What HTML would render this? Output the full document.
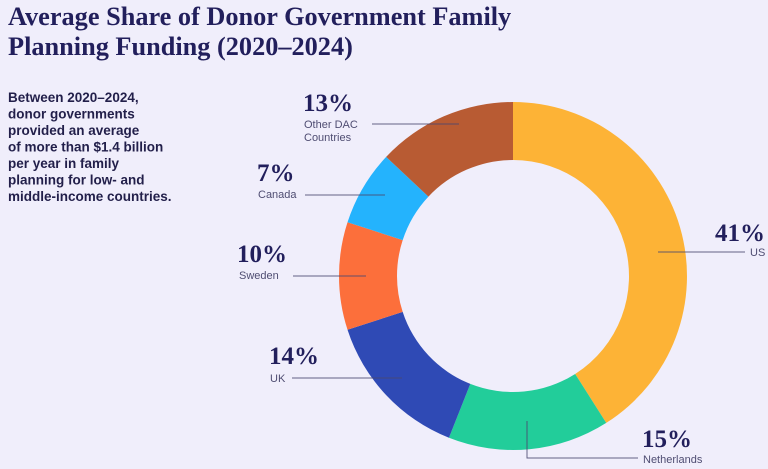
<!DOCTYPE html>
<html><head><meta charset="utf-8"><style>
html,body{margin:0;padding:0;background:#f0eefb;}
body{width:768px;height:464px;position:relative;overflow:hidden;}
</style></head><body>
<svg width="768" height="464" viewBox="0 0 768 464" xmlns="http://www.w3.org/2000/svg">
<rect width="768" height="464" fill="#f0eefb"/>
<g font-family="Liberation Serif, serif" font-weight="bold" fill="#221f5c">
<text x="8" y="25" font-size="26.3">Average Share of Donor Government Family</text>
<text x="8" y="55" font-size="26.3">Planning Funding (2020–2024)</text>
</g>
<g font-family="Liberation Sans, sans-serif" font-weight="bold" fill="#221f4a" font-size="13.5">
<text x="8" y="102">Between 2020–2024,</text>
<text x="8" y="118.5">donor governments</text>
<text x="8" y="135">provided an average</text>
<text x="8" y="151.5">of more than $1.4 billion</text>
<text x="8" y="168">per year in family</text>
<text x="8" y="184.5">planning for low- and</text>
<text x="8" y="201">middle-income countries.</text>
</g>
<g id="donut"></g>
<g stroke="#4a4870" stroke-width="1" fill="none" opacity="0.85">
<line x1="372" y1="124" x2="459" y2="124"/>
<line x1="305" y1="195" x2="385" y2="195"/>
<line x1="293" y1="276" x2="366" y2="276"/>
<line x1="292" y1="378" x2="402" y2="378"/>
<line x1="658" y1="252" x2="745" y2="252"/>
<polyline points="527,421 527,458 638,458"/>
</g>
<g font-family="Liberation Serif, serif" font-weight="bold" fill="#221f5c" font-size="25">
<text x="303" y="111">13%</text>
<text x="257" y="181">7%</text>
<text x="237" y="262">10%</text>
<text x="269" y="364">14%</text>
<text x="715" y="241">41%</text>
<text x="642" y="447">15%</text>
</g>
<g font-family="Liberation Sans, sans-serif" fill="#4f4d72" font-size="11">
<text x="304" y="128">Other DAC</text>
<text x="304" y="141">Countries</text>
<text x="258" y="198">Canada</text>
<text x="239" y="279">Sweden</text>
<text x="270" y="382">UK</text>
<text x="750" y="256">US</text>
<text x="643" y="463">Netherlands</text>
</g>
</svg>
<script>
(function(){
var cx=513,cy=276,R=174,r=116;
var segs=[[41,"#fdb336"],[15,"#22cd9a"],[14,"#2f4ab5"],[10,"#fc6f3b"],[7,"#24b3fd"],[13,"#b85b33"]];
var a=0,g=document.getElementById("donut"),s="";
function p(rad,ang){var t=ang*Math.PI/180;return [(cx+rad*Math.sin(t)).toFixed(2),(cy-rad*Math.cos(t)).toFixed(2)];}
segs.forEach(function(sg){
var b=a+sg[0]*3.6,l=(b-a)>180?1:0;
var o1=p(R,a),o2=p(R,b),i1=p(r,b),i2=p(r,a);
s+='<path fill="'+sg[1]+'" d="M'+o1+' A'+R+' '+R+' 0 '+l+' 1 '+o2+' L'+i1+' A'+r+' '+r+' 0 '+l+' 0 '+i2+' Z"/>';
a=b;});
g.innerHTML=s;
})();
</script>
</body></html>
